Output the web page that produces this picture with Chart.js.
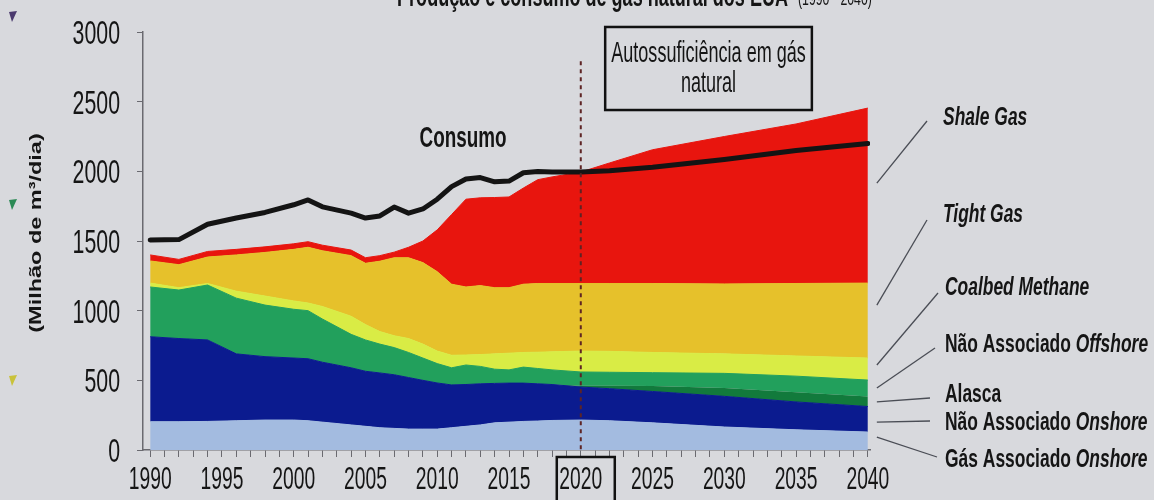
<!DOCTYPE html>
<html>
<head>
<meta charset="utf-8">
<script src="https://cdn.jsdelivr.net/npm/chart.js@4.4.1/dist/chart.umd.min.js"></script>
<style>
  html, body { margin: 0; padding: 0; background: #d8d9dd; }
  #wrap { width: 1154px; height: 500px; position: relative; }
</style>
</head>
<body>
<div id="wrap"><canvas id="gasChart"></canvas></div>
<script>
// --- Data (Milhão de m3/dia) ---
const years = [1990,1992,1994,1996,1998,2000,2001,2002,2004,2005,2006,2007,2008,2009,2010,2011,2012,2013,2014,2015,2016,2017,2018,2020,2022,2025,2030,2035,2040];

const gasAssocOnshore  = [203,203,205,210,215,215,210,200,180,170,160,155,150,150,150,160,170,180,195,200,205,208,212,215,210,195,165,145,129];
const naoAssocOnshore  = [610,597,585,480,455,445,445,430,410,395,393,385,370,350,331,307,300,295,283,280,275,267,258,237,230,225,220,200,183];
const alasca           = [0,0,0,0,0,0,0,0,0,0,0,0,0,0,0,0,0,0,0,0,0,0,0,10,22,40,60,70,72];
const naoAssocOffshore = [357,348,394,400,370,350,345,310,240,225,207,195,180,160,139,123,140,125,102,95,115,110,105,98,96,95,105,115,118];
const coalbedMethane   = [28,17,11,50,65,60,55,90,130,110,90,85,100,100,90,90,72,85,110,120,105,117,130,150,150,145,140,145,158];
const tightGas         = [159,165,190,260,313,370,400,400,435,440,505,560,580,585,570,510,488,495,475,470,490,493,490,485,487,495,502,520,538];
const shaleGas         = [43,38,40,40,40,40,40,40,40,40,40,40,75,155,300,500,630,630,647,651,690,745,765,800,865,960,1058,1145,1256];
const consumo          = [1507,1510,1620,1665,1705,1760,1795,1745,1700,1665,1680,1744,1700,1730,1800,1890,1945,1955,1925,1930,1990,1998,1995,1995,2005,2030,2085,2150,2200];

const yTickValues = [0, 500, 1000, 1500, 2000, 2500, 3000];
const xTickYears = [];
for (let y = 1990; y <= 2040; y++) xTickYears.push(y);
const xLabelYears = [1990, 1995, 2000, 2005, 2010, 2015, 2020, 2025, 2030, 2035, 2040];

const layers = [
  { label: "Gás Associado Onshore",  data: gasAssocOnshore,  color: "#a3bbe0" },
  { label: "Não Associado Onshore",  data: naoAssocOnshore,  color: "#0b1b8f" },
  { label: "Alasca",                 data: alasca,           color: "#127a3c", border: 0 },
  { label: "Não Associado Offshore", data: naoAssocOffshore, color: "#22a05c" },
  { label: "Coalbed Methane",        data: coalbedMethane,   color: "#d9ec45" },
  { label: "Tight Gas",              data: tightGas,         color: "#e6c12b" },
  { label: "Shale Gas",              data: shaleGas,         color: "#e8150e" }
];

// no narrow font installed: squeeze Liberation Sans sideways, and stretch it
// up a bit because the scanned picture is taller than wide
const FONT = '"Liberation Sans", Arial, sans-serif';
const SX = 0.82, SY = 1.3;

const xy = arr => arr.map((v, i) => ({ x: years[i], y: v }));

const datasets = layers.map((l, i) => ({
  label: l.label,
  data: xy(l.data),
  backgroundColor: l.color,
  borderColor: l.color,
  borderWidth: l.border === 0 ? 0 : 1,
  fill: i === 0 ? "origin" : "-1",
  pointRadius: 0,
  tension: 0,
  stack: "prod",
  order: 1
}));
datasets.push({
  label: "Consumo",
  data: xy(consumo),
  borderColor: "#141414",
  borderWidth: 5,
  borderJoinStyle: "round",
  borderCapStyle: "round",
  fill: false,
  pointRadius: 0,
  tension: 0,
  stack: "cons",
  order: 0
});

// --- helper: squeezed / stretched canvas text ---
function drawText(ctx, txt, x, y, font, align, sx, sy) {
  ctx.save();
  ctx.font = font;
  ctx.textAlign = align || "left";
  ctx.textBaseline = "alphabetic";
  ctx.translate(x, y);
  ctx.scale(sx || SX, sy || SY);
  ctx.fillText(txt, 0, 0);
  ctx.restore();
}

// label made of [text, italic?] parts, bold
function partsText(ctx, parts, x, y, size) {
  let cx = x;
  parts.forEach(([t, it]) => {
    const font = (it ? "italic " : "") + "bold " + size + "px " + FONT;
    drawText(ctx, t, cx, y, font, "left", 0.83, 1.25);
    ctx.font = font;
    cx += ctx.measureText(t).width * 0.83;
  });
}

const extras = {
  id: "extras",
  afterDatasetsDraw(chart) {
    const { ctx, scales: { x, y } } = chart;
    // dashed 2020 marker
    ctx.save();
    ctx.strokeStyle = "#5e2424";
    ctx.lineWidth = 2;
    ctx.setLineDash([4, 4]);
    ctx.beginPath();
    ctx.moveTo(x.getPixelForValue(2020), y.getPixelForValue(2790));
    ctx.lineTo(x.getPixelForValue(2020), y.getPixelForValue(0));
    ctx.stroke();
    ctx.restore();
  },
  afterDraw(chart) {
    const { ctx, scales: { x, y } } = chart;
    ctx.save();
    ctx.fillStyle = "#151515";

    // tick labels
    yTickValues.forEach(v => {
      drawText(ctx, String(v), 120, y.getPixelForValue(v) + 12, "26px " + FONT, "right", 0.82, 1.3);
    });
    xLabelYears.forEach(v => {
      drawText(ctx, String(v), x.getPixelForValue(v), 489, "23.5px " + FONT, "center", 0.82, 1.36);
    });

    // page title (cut by the top edge)
    drawText(ctx, "Produção e consumo de gás natural dos EUA", 788, 6, "bold 22px " + FONT, "right");
    drawText(ctx, "(1990 - 2040)", 798, 5, "15px " + FONT, "left");

    // annotation box
    const bx0 = x.getPixelForValue(2021.7), bx1 = x.getPixelForValue(2036.1);
    const by0 = y.getPixelForValue(3036), by1 = y.getPixelForValue(2440);
    ctx.strokeStyle = "#111";
    ctx.lineWidth = 2.5;
    ctx.strokeRect(bx0, by0, bx1 - bx0, by1 - by0);
    const bcx = (bx0 + bx1) / 2;
    drawText(ctx, "Autossuficiência em gás", bcx, y.getPixelForValue(2785), "22px " + FONT, "center");
    drawText(ctx, "natural", bcx, y.getPixelForValue(2569), "22px " + FONT, "center");

    // box round the 2020 tick label
    const tx = x.getPixelForValue(2020);
    ctx.lineWidth = 2.5;
    ctx.beginPath();
    ctx.moveTo(tx - 24, 502);
    ctx.lineTo(tx - 24, 457);
    ctx.lineTo(tx + 34, 457);
    ctx.lineTo(tx + 34, 502);
    ctx.stroke();

    // Consumo label
    drawText(ctx, "Consumo", x.getPixelForValue(2011.8), y.getPixelForValue(2175), "bold 23px " + FONT, "center");

    // y axis title (rotated; the picture's stretch runs along it)
    ctx.save();
    ctx.translate(41, 233);
    ctx.rotate(-Math.PI / 2);
    ctx.scale(1.38, 1);
    ctx.font = "bold 17px " + FONT;
    ctx.textAlign = "center";
    ctx.fillText("(Milhão de m³/dia)", 0, 0);
    ctx.restore();

    // right-hand labels with leader lines
    const x0 = x.getPixelForValue(2040) + 9;
    const labels = [
      { parts: [["Shale Gas", true]],                          at: 1916, end: [927, 121], pos: [943, 125] },
      { parts: [["Tight Gas", true]],                          at: 1040, end: [927, 220], pos: [943, 222] },
      { parts: [["Coalbed Methane", true]],                    at: 610,  end: [938, 293], pos: [945, 295] },
      { parts: [["Não Associado ", false], ["Offshore", true]], at: 445,  end: [935, 348], pos: [945, 352] },
      { parts: [["Alasca", false]],                            at: 345,  end: [930, 398], pos: [945, 402] },
      { parts: [["Não Associado ", false], ["Onshore", true]],  at: 200,  end: [930, 421], pos: [945, 430] },
      { parts: [["Gás Associado ", false], ["Onshore", true]],  at: 93,   end: [937, 457], pos: [945, 467] }
    ];
    ctx.strokeStyle = "#4a4d55";
    ctx.lineWidth = 1.3;
    labels.forEach(l => {
      ctx.beginPath();
      ctx.moveTo(x0, y.getPixelForValue(l.at));
      ctx.lineTo(l.end[0], l.end[1]);
      ctx.stroke();
      partsText(ctx, l.parts, l.pos[0], l.pos[1], 21);
    });

    // little scan marks on the left margin
    [["#4b3a6e", 17], ["#2b8a55", 205], ["#c9c23a", 381]].forEach(([c, py]) => {
      ctx.fillStyle = c;
      ctx.beginPath();
      ctx.moveTo(9, py - 5);
      ctx.lineTo(17, py - 6);
      ctx.lineTo(12, py + 5);
      ctx.closePath();
      ctx.fill();
    });
    ctx.restore();
  }
};

new Chart(document.getElementById("gasChart"), {
  type: "line",
  data: { datasets },
  options: {
    responsive: true,
    maintainAspectRatio: false,
    animation: false,
    layout: { padding: { top: 32, right: 284, bottom: 0, left: 0 } },
    plugins: { legend: { display: false }, tooltip: { enabled: false } },
    scales: {
      x: {
        type: "linear",
        min: 1989.5,
        max: 2040.15,
        afterBuildTicks: s => { s.ticks = xTickYears.map(v => ({ value: v })); },
        afterFit: s => { s.height = 50; },
        border: { color: "#6a6a70", width: 1.5 },
        grid: { drawOnChartArea: false, tickLength: 7, color: "#6a6a70", lineWidth: 1 },
        ticks: { display: false, autoSkip: false }
      },
      y: {
        stacked: true,
        min: 0,
        max: 3000,
        afterBuildTicks: s => { s.ticks = yTickValues.map(v => ({ value: v })); },
        afterFit: s => { s.width = 143; },
        border: { color: "#6a6a70", width: 1.5 },
        grid: { drawOnChartArea: false, tickLength: 6, color: "#6a6a70" },
        ticks: { display: false }
      }
    }
  },
  plugins: [extras]
});
</script>
</body>
</html>
